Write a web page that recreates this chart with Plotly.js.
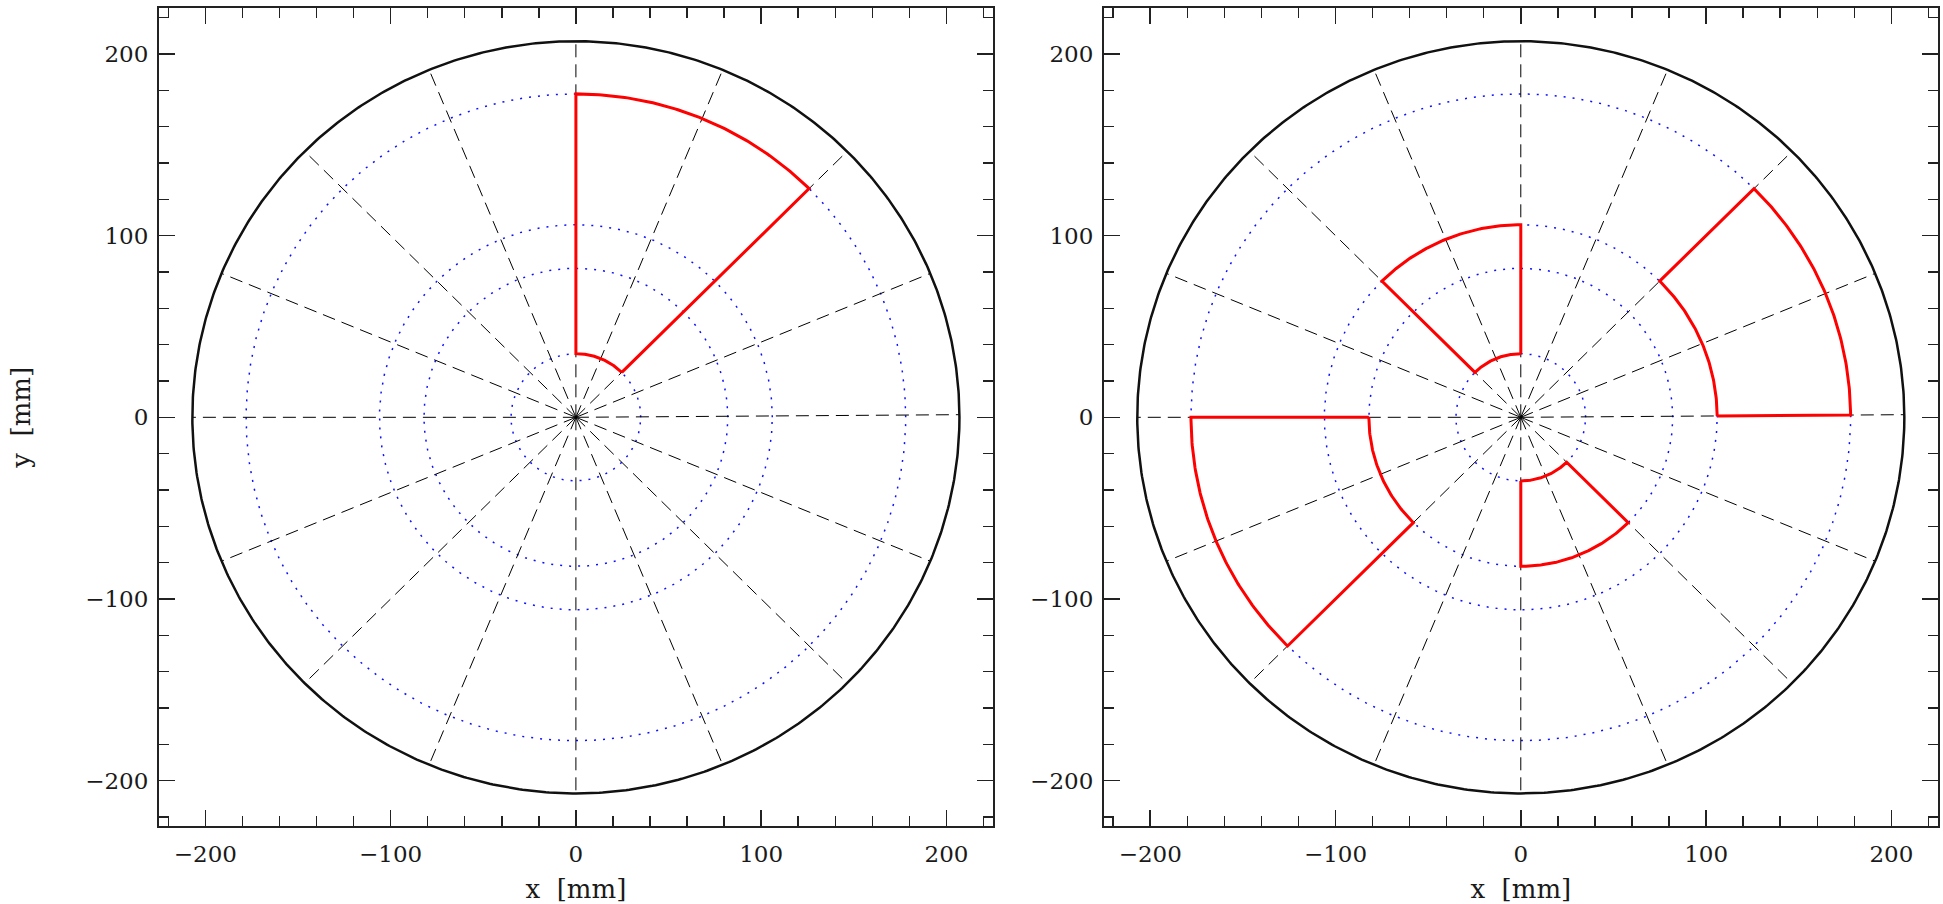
<!DOCTYPE html>
<html>
<head>
<meta charset="utf-8">
<script src="https://cdn.plot.ly/plotly-3.0.1.min.js"></script>
<style>html,body{margin:0;padding:0;background:#fff;}#chart{width:1943px;height:904px;}</style>
</head>
<body>
<div id="chart"></div>
<script>
// ---- data ----
var outerRadius = 207;                       // solid black boundary circle
var dottedRadii = [35, 82, 106, 178];        // blue dotted circles
var spokeAngles = [0.4, 22.5, 45, 67.5, 90, 112.5, 135, 157.5, 180, 202.5, 225, 247.5, 270, 292.5, 315, 337.5];
var spokeLength = 207;
// sectors: inner radius, outer radius, start angle, end angle (deg)
var leftRin   = [35];
var leftRout  = [178];
var leftPhi0  = [45];
var leftPhi1  = [90];
var rightRin  = [35, 106, 82, 35];
var rightRout = [106, 178, 178, 82];
var rightPhi0 = [90, 0.4, 180, 270];
var rightPhi1 = [135, 45, 225, 315];
var tickVals = [-200, -100, 0, 100, 200];
var tickText = ['\u2212200', '\u2212100', '0', '100', '200'];

// ---- helpers ----
function rad(d){ return d*Math.PI/180; }
function arc(r, a0, a1, xs, ys){
  var n = Math.max(2, Math.ceil(Math.abs(a1-a0)*2));
  for (var i=0;i<=n;i++){ var a = rad(a0 + (a1-a0)*i/n); xs.push(r*Math.cos(a)); ys.push(r*Math.sin(a)); }
}
function fineCircle(r, xa, ya, line){
  var xs=[], ys=[];
  arc(r, 0, 360, xs, ys);
  return {type:'scatter', mode:'lines', x:xs, y:ys, xaxis:xa, yaxis:ya, line:line, hoverinfo:'skip', showlegend:false};
}
function spokesTrace(xa, ya){
  var xs=[], ys=[];
  spokeAngles.forEach(function(a){ xs.push(0, spokeLength*Math.cos(rad(a)), null); ys.push(0, spokeLength*Math.sin(rad(a)), null); });
  return {type:'scatter', mode:'lines', x:xs, y:ys, xaxis:xa, yaxis:ya,
          line:{color:'#000', width:1, dash:'13px,7px'}, hoverinfo:'skip', showlegend:false};
}
function sectorTrace(rin, rout, p0, p1, xa, ya){
  var xs=[], ys=[];
  arc(rin, p0, p1, xs, ys);
  arc(rout, p1, p0, xs, ys);
  xs.push(xs[0]); ys.push(ys[0]);
  return {type:'scatter', mode:'lines', x:xs, y:ys, xaxis:xa, yaxis:ya,
          line:{color:'#ff0000', width:3}, hoverinfo:'skip', showlegend:false};
}
function panel(xa, ya, rin, rout, p0, p1){
  var t = [];
  dottedRadii.forEach(function(r){ t.push(fineCircle(r, xa, ya, {color:'#1010ff', width:1.5, dash:'2px,7px'})); });
  t.push(spokesTrace(xa, ya));
  t.push(fineCircle(outerRadius, xa, ya, {color:'#111', width:2.5}));
  for (var i=0;i<rin.length;i++) t.push(sectorTrace(rin[i], rout[i], p0[i], p1[i], xa, ya));
  return t;
}

var data = panel('x','y', leftRin, leftRout, leftPhi0, leftPhi1)
  .concat(panel('x2','y2', rightRin, rightRout, rightPhi0, rightPhi1));

var fontFam = 'DejaVu Serif, serif';
var titleFont = {family:fontFam, size:26, color:'#1a1a1a'};
function axis(extra){
  var a = {
    range:[-225, 225], showgrid:false, zeroline:false, showline:true, linecolor:'#222', linewidth:2,
    mirror:'ticks', ticks:'inside', ticklen:16, tickwidth:1.5, tickcolor:'#222',
    tickvals:tickVals, ticktext:tickText, tickfont:{family:fontFam, size:23, color:'#1a1a1a'},
    minor:{dtick:20, tick0:0, ticks:'inside', ticklen:10, tickwidth:1.5, tickcolor:'#222'},
    fixedrange:true
  };
  for (var k in extra) a[k]=extra[k];
  return a;
}

var layout = {
  width:1943, height:904, margin:{l:0, r:0, t:0, b:0},
  paper_bgcolor:'#fff', plot_bgcolor:'#fff', showlegend:false,
  xaxis: axis({domain:[0.08183, 0.51096], anchor:'y', ticklabelstandoff:6,
              title:{text:'x\u00a0\u00a0[mm]', font:titleFont, standoff:15}}),
  yaxis: axis({domain:[0.08617, 0.9906], anchor:'x', ticklabelstandoff:4,
              title:{text:'y\u00a0\u00a0[mm]', font:titleFont, standoff:47}}),
  xaxis2: axis({domain:[0.56814, 0.99727], anchor:'y2', ticklabelstandoff:6,
              title:{text:'x\u00a0\u00a0[mm]', font:titleFont, standoff:15}}),
  yaxis2: axis({domain:[0.08617, 0.9906], anchor:'x2', ticklabelstandoff:4})
};

Plotly.newPlot('chart', data, layout, {staticPlot:true, displayModeBar:false});
</script>
</body>
</html>
